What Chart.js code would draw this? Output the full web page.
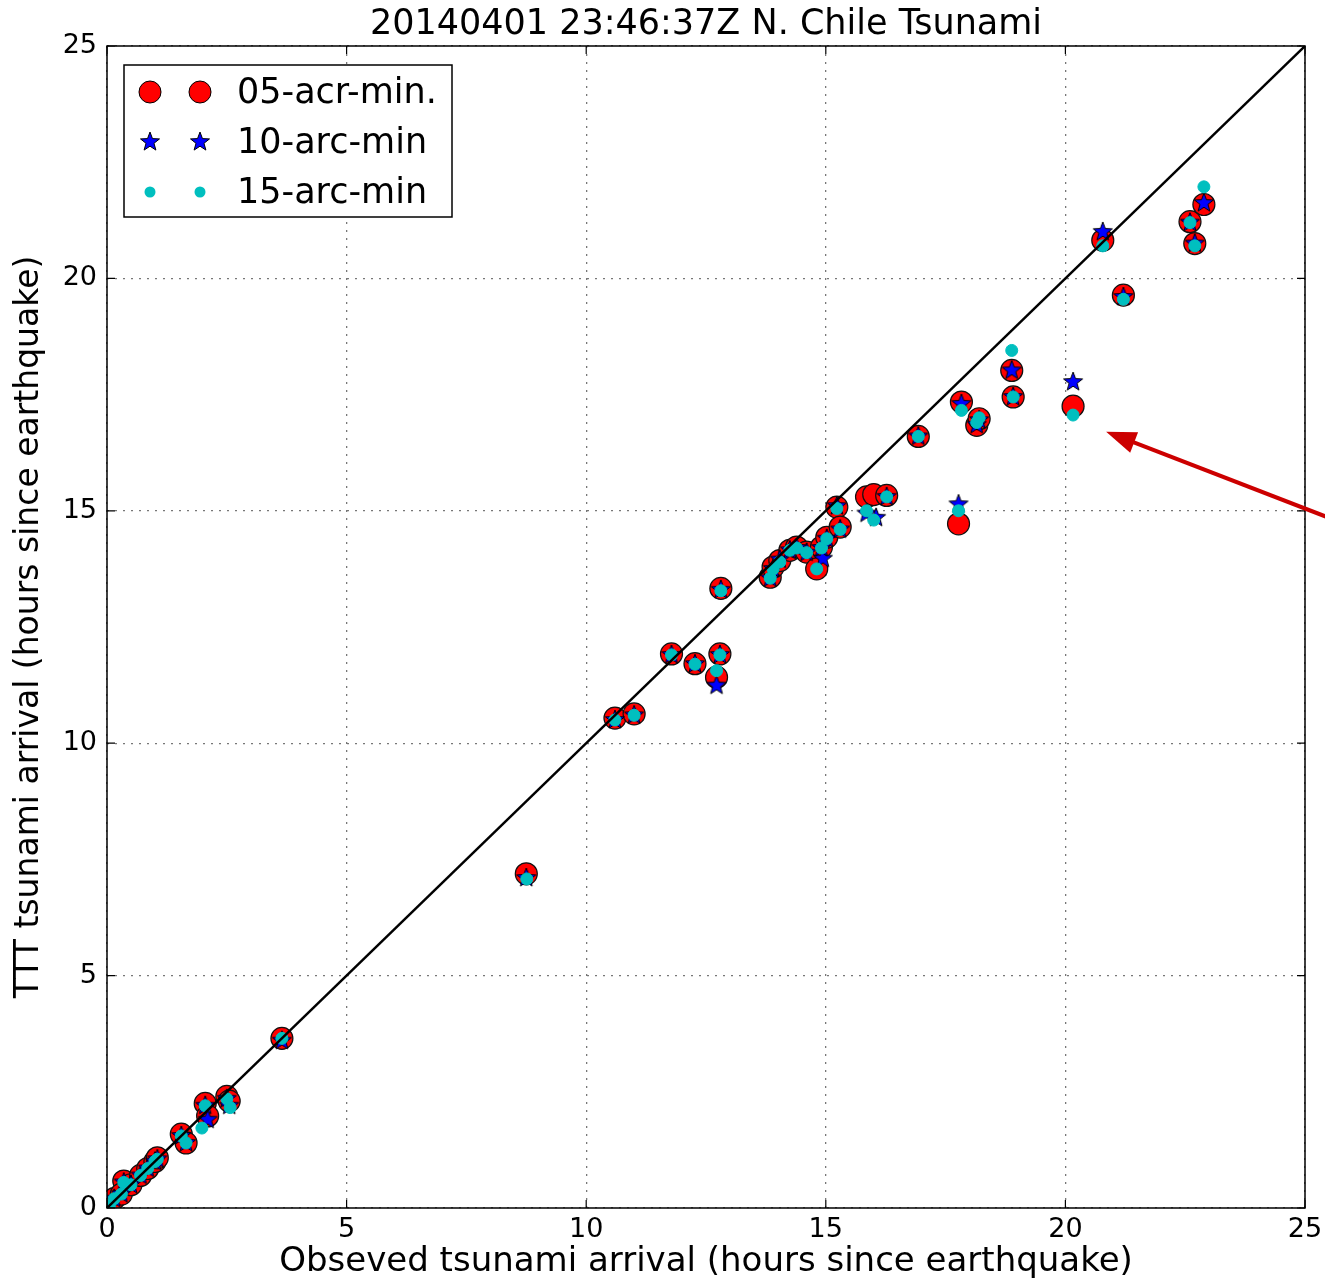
<!DOCTYPE html>
<html>
<head>
<meta charset="utf-8">
<script src="https://cdn.jsdelivr.net/npm/chart.js@4/dist/chart.umd.min.js"></script>
<style>
  body { margin: 0; background: #fff; }
  canvas { display: block; }
</style>
</head>
<body>
<canvas id="chart" width="1325" height="1284"></canvas>
<script>
// valores (horas desde o terremoto)
const x05 = [0.05,0.15,0.35,0.3,0.5,0.7,0.85,1.0,1.05,1.55,1.65,2.05,2.1,2.5,2.55,3.65,8.75,10.6,11.0,11.78,12.27,12.72,12.79,12.81,13.84,13.9,14.04,14.25,14.39,14.6,14.81,14.91,15.02,15.23,15.3,15.85,16.0,16.27,16.93,17.77,17.83,18.15,18.2,18.88,18.91,20.16,20.78,21.21,22.6,22.7,22.89];
const y05 = [0.05,0.2,0.58,0.3,0.5,0.7,0.85,1.0,1.08,1.59,1.4,2.25,1.98,2.4,2.3,3.65,7.19,10.54,10.63,11.92,11.71,11.42,11.92,13.33,13.57,13.79,13.93,14.15,14.22,14.11,13.75,14.22,14.43,15.08,14.65,15.3,15.35,15.33,16.6,14.72,17.34,16.84,16.98,18.02,17.45,17.25,20.82,19.64,21.22,20.75,21.59];

const x10 = [0.05,0.15,0.35,0.3,0.5,0.7,0.85,1.0,1.05,1.55,1.65,2.05,2.1,2.5,2.55,3.65,8.75,10.6,11.0,11.78,12.27,12.72,12.79,12.81,13.84,13.9,14.04,14.25,14.39,14.6,14.94,14.91,15.02,15.23,15.3,15.85,16.05,16.27,16.93,17.77,17.83,18.15,18.2,18.88,18.91,20.16,20.78,21.21,22.6,22.7,22.89];
const y10 = [0.05,0.2,0.55,0.3,0.5,0.7,0.85,1.0,1.05,1.55,1.4,2.2,1.9,2.35,2.2,3.6,7.1,10.5,10.6,11.9,11.7,11.24,11.9,13.3,13.55,13.75,13.95,14.15,14.2,14.1,13.97,14.2,14.4,15.1,14.6,14.94,14.85,15.3,16.6,15.14,17.3,16.85,16.95,18.02,17.45,17.77,21.0,19.6,21.2,20.75,21.62];

const x15 = [0.05,0.15,0.35,0.3,0.5,0.7,0.85,1.0,1.05,1.55,1.65,2.05,1.98,2.5,2.57,3.65,8.76,10.6,11.0,11.78,12.27,12.72,12.79,12.81,13.84,13.9,14.04,14.25,14.39,14.6,14.81,14.91,15.02,15.23,15.3,15.85,16.0,16.27,16.93,17.77,17.83,18.15,18.2,18.88,18.91,20.16,20.78,21.21,22.6,22.7,22.89];
const y15 = [0.05,0.2,0.55,0.3,0.5,0.7,0.85,1.0,1.05,1.55,1.4,2.2,1.72,2.35,2.16,3.65,7.08,10.5,10.6,11.9,11.7,11.56,11.9,13.28,13.55,13.75,13.9,14.15,14.2,14.1,13.75,14.2,14.4,15.05,14.6,15.0,14.8,15.3,16.6,15.0,17.16,16.9,17.0,18.45,17.45,17.06,20.7,19.55,21.2,20.7,21.97];

const titulo = '20140401 23:46:37Z N. Chile Tsunami';
const legendas = ['05-acr-min.', '10-arc-min', '15-arc-min'];
const ticksEixo = [0, 5, 10, 15, 20, 25];

function pontos(xs, ys) {
  return xs.map((x, i) => ({x: x, y: ys[i]}));
}

// estrela preenchida (o 'star' do Chart.js e so linhas)
function fazEstrela(r) {
  const c = document.createElement('canvas');
  c.width = r * 2 + 4; c.height = r * 2 + 4;
  const g = c.getContext('2d');
  g.translate(r + 2, r + 2);
  g.beginPath();
  for (let i = 0; i < 10; i++) {
    const rr = i % 2 === 0 ? r : r * 0.42;
    const a = -Math.PI / 2 + i * Math.PI / 5;
    g.lineTo(rr * Math.cos(a), rr * Math.sin(a));
  }
  g.closePath();
  g.fillStyle = '#0000ff';
  g.fill();
  g.lineWidth = 1;
  g.strokeStyle = '#000';
  g.stroke();
  return c;
}
const estrela = fazEstrela(10);

const FONTE = "'DejaVu Sans', sans-serif";

// titulo centrado no eixo, caixa, ticks pra dentro, seta e legenda
const extras = {
  id: 'extras',
  afterDraw(chart) {
    const ctx = chart.ctx;
    const a = chart.chartArea;
    const sx = chart.scales.x, sy = chart.scales.y;
    ctx.save();

    ctx.fillStyle = '#000';
    ctx.font = '35px ' + FONTE;
    ctx.textAlign = 'center';
    ctx.textBaseline = 'middle';
    ctx.fillText(titulo, (a.left + a.right) / 2, 25);
    ctx.textAlign = 'left';

    ctx.strokeStyle = '#000';
    ctx.lineWidth = 1.5;
    ctx.strokeRect(a.left, a.top, a.right - a.left, a.bottom - a.top);
    ctx.lineWidth = 1.2;
    ticksEixo.forEach(v => {
      const px = sx.getPixelForValue(v), py = sy.getPixelForValue(v);
      ctx.beginPath();
      ctx.moveTo(px, a.bottom); ctx.lineTo(px, a.bottom - 8);
      ctx.moveTo(px, a.top); ctx.lineTo(px, a.top + 8);
      ctx.moveTo(a.left, py); ctx.lineTo(a.left + 8, py);
      ctx.moveTo(a.right, py); ctx.lineTo(a.right - 8, py);
      ctx.stroke();
    });

    // seta vermelha
    const x0 = sx.getPixelForValue(25.5), y0 = sy.getPixelForValue(14.85);
    const x1 = sx.getPixelForValue(20.85), y1 = sy.getPixelForValue(16.7);
    const ang = Math.atan2(y1 - y0, x1 - x0);
    ctx.strokeStyle = '#cc0000';
    ctx.fillStyle = '#cc0000';
    ctx.lineWidth = 4;
    ctx.beginPath();
    ctx.moveTo(x0, y0);
    ctx.lineTo(x1 - 20 * Math.cos(ang), y1 - 20 * Math.sin(ang));
    ctx.stroke();
    ctx.beginPath();
    ctx.moveTo(x1, y1);
    ctx.lineTo(x1 - 30 * Math.cos(ang) + 11 * Math.sin(ang), y1 - 30 * Math.sin(ang) - 11 * Math.cos(ang));
    ctx.lineTo(x1 - 30 * Math.cos(ang) - 11 * Math.sin(ang), y1 - 30 * Math.sin(ang) + 11 * Math.cos(ang));
    ctx.closePath();
    ctx.fill();

    // legenda
    const lx = a.left + 17, ly = a.top + 19;
    ctx.fillStyle = '#fff';
    ctx.fillRect(lx, ly, 328, 152);
    ctx.strokeStyle = '#000';
    ctx.lineWidth = 1.5;
    ctx.strokeRect(lx, ly, 328, 152);
    ctx.font = '35px ' + FONTE;
    ctx.textBaseline = 'middle';
    legendas.forEach((t, i) => {
      const yy = ly + 27 + i * 50;
      [lx + 26, lx + 76].forEach(mx => {
        if (i === 0) {
          ctx.beginPath();
          ctx.arc(mx, yy, 11, 0, Math.PI * 2);
          ctx.fillStyle = 'red'; ctx.fill();
          ctx.lineWidth = 1; ctx.strokeStyle = '#000'; ctx.stroke();
        } else if (i === 1) {
          ctx.drawImage(estrela, mx - estrela.width / 2, yy - estrela.height / 2);
        } else {
          ctx.beginPath();
          ctx.arc(mx, yy, 5.5, 0, Math.PI * 2);
          ctx.fillStyle = '#00bfbf'; ctx.fill();
        }
      });
      ctx.fillStyle = '#000';
      ctx.fillText(t, lx + 113, yy + 2);
    });
    ctx.restore();
  }
};

const ctx = document.getElementById('chart').getContext('2d');
new Chart(ctx, {
  type: 'scatter',
  data: {
    datasets: [
      {label: 'diagonal', type: 'line', data: [{x: 0, y: 0}, {x: 25, y: 25}], borderColor: '#000', borderWidth: 2.4, pointRadius: 0, order: 0},
      {label: legendas[0], data: pontos(x05, y05), pointRadius: 11, backgroundColor: 'red', borderColor: '#111', borderWidth: 1.2, order: 3},
      {label: legendas[1], data: pontos(x10, y10), pointStyle: estrela, order: 2},
      {label: legendas[2], data: pontos(x15, y15), pointRadius: 6, backgroundColor: '#00bfbf', borderColor: '#00bfbf', borderWidth: 1, order: 1}
    ]
  },
  options: {
    responsive: false,
    animation: false,
    layout: {padding: {right: 20, top: 46, left: 0, bottom: 0}},
    plugins: {
      legend: {display: false},
      tooltip: {enabled: false},
      title: {display: false}
    },
    scales: {
      x: {
        type: 'linear', min: 0, max: 25,
        afterFit: s => { s.height = 76; s.paddingRight = 0; },
        ticks: {stepSize: 5, color: '#000', padding: 6, maxRotation: 0, font: {family: FONTE, size: 27}},
        grid: {color: '#777', lineWidth: 1.3, drawTicks: false},
        border: {display: false, dash: [2, 6]},
        title: {display: true, text: 'Obseved tsunami arrival (hours since earthquake)', color: '#000', font: {family: FONTE, size: 34}, padding: {top: 0, bottom: 1}}
      },
      y: {
        type: 'linear', min: 0, max: 25,
        afterFit: s => { s.width = 107; },
        ticks: {stepSize: 5, color: '#000', padding: 10, font: {family: FONTE, size: 27}},
        grid: {color: '#777', lineWidth: 1.3, drawTicks: false},
        border: {display: false, dash: [2, 6]},
        title: {display: true, text: 'TTT tsunami arrival (hours since earthquake)', color: '#000', font: {family: FONTE, size: 33}, padding: {top: 10, bottom: 0}}
      }
    }
  },
  plugins: [extras]
});
</script>
</body>
</html>
